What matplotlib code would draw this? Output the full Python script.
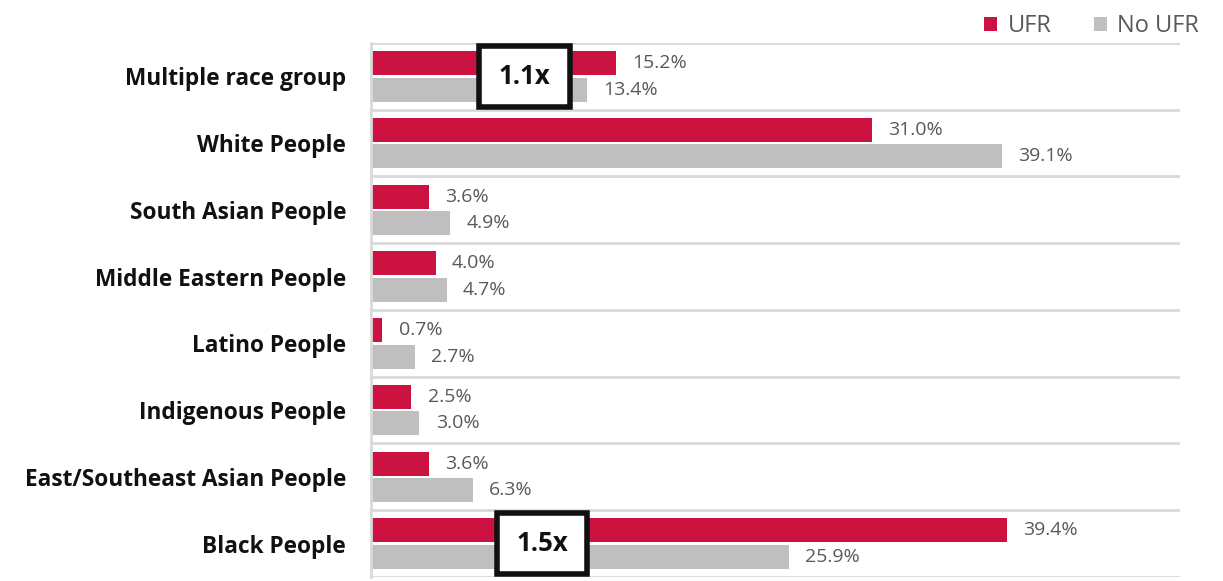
import matplotlib.pyplot as plt
from matplotlib.patches import Rectangle

plt.rcParams['font.family'] = ['Open Sans', 'DejaVu Sans']

groups = ["Multiple race group", "White People", "South Asian People",
          "Middle Eastern People", "Latino People", "Indigenous People",
          "East/Southeast Asian People", "Black People"]
ufr = [15.2, 31.0, 3.6, 4.0, 0.7, 2.5, 3.6, 39.4]
no_ufr = [13.4, 39.1, 4.9, 4.7, 2.7, 3.0, 6.3, 25.9]
# ratio callouts: (row, text, x centre in %)
callouts = [(0, "1.1x", 9.5), (7, "1.5x", 10.6)]

red = "#CC1241"
grey = "#BFBFBF"
txt = "#595959"
line = "#D9D9D9"

fig = plt.figure(figsize=(12.23, 5.81), dpi=100)
ax = fig.add_axes([0.3034, 0.0069, 0.9648 - 0.3034, 0.926 - 0.0069])

y = list(range(len(groups)))
h = 0.36
off = 0.2
ax.barh([v - off for v in y], ufr, height=h, color=red, label="UFR")
ax.barh([v + off for v in y], no_ufr, height=h, color=grey, label="No UFR")

for i in y:
    ax.text(ufr[i] + 1.0, i - off, f"{ufr[i]:.1f}%", va="center", ha="left",
            fontsize=14, color=txt)
    ax.text(no_ufr[i] + 1.0, i + off, f"{no_ufr[i]:.1f}%", va="center", ha="left",
            fontsize=14, color=txt)

for row, label, xc in callouts:
    w = 5.6
    ax.add_patch(Rectangle((xc - w / 2, row - 0.46), w, 0.92, facecolor="white",
                           edgecolor="#111111", linewidth=4, zorder=5))
    ax.text(xc, row, label, ha="center", va="center", fontsize=18.5,
            fontweight="bold", color="#111111", zorder=6)

for b in range(len(groups) + 1):
    ax.axhline(b - 0.5, color=line, linewidth=2, zorder=0)

ax.set_xlim(0, 50.1)
ax.set_ylim(len(groups) - 0.5, -0.5)
ax.set_yticks(y)
ax.set_yticklabels(groups, fontsize=16.3, fontweight="bold", color="#111111")
ax.tick_params(axis="y", length=0, pad=18)
ax.set_xticks([])
for s in ["top", "right", "bottom"]:
    ax.spines[s].set_visible(False)
ax.spines["left"].set_color(line)
ax.spines["left"].set_linewidth(2)

leg = fig.legend(loc="upper right", bbox_to_anchor=(0.998, 1.012), ncol=2, frameon=False,
                 fontsize=17, handlelength=0.55, handleheight=0.55, handletextpad=0.45,
                 columnspacing=1.8, labelcolor=txt)

fig.savefig("out.png", dpi=100)
